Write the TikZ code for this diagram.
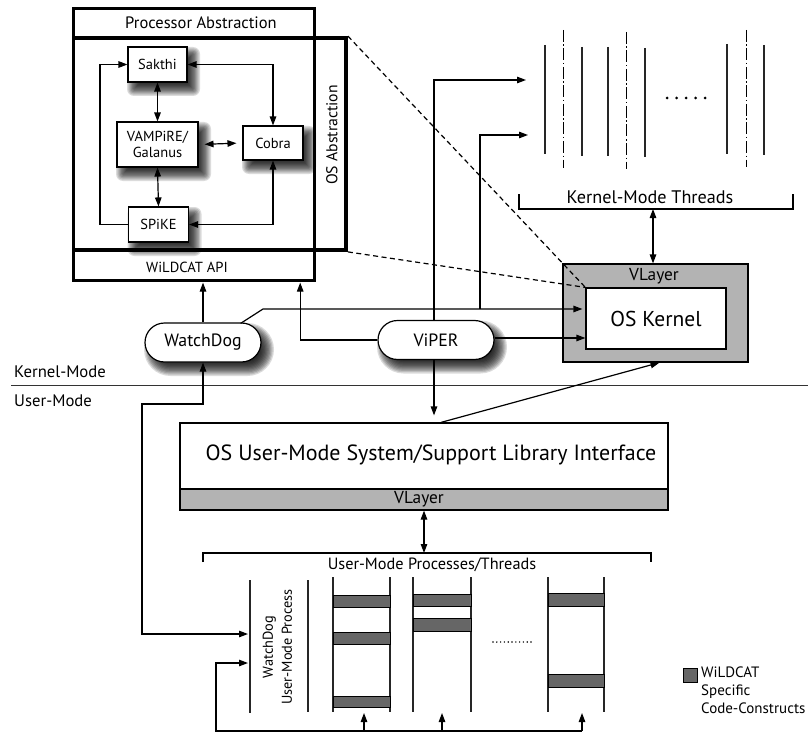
\documentclass[tikz,border=0pt]{standalone}
\usepackage{fontspec}
\setmainfont{PT Sans}
\usetikzlibrary{arrows.meta,calc}

\definecolor{layergray}{HTML}{B3B3B3}
\definecolor{codegray}{HTML}{666666}

% soft drop shadow, drawn before the shape it belongs to, as nested
% grey shapes that darken towards the middle:
% #1 centre of the shape, #2 width, #3 height, #4 corner radius (all pt)
\newcommand\castshadow[4]{%
  \foreach \k in {0,...,11}{
    \pgfmathsetmacro\spread{7*(1-2*\k/11)}
    \pgfmathsetmacro\rr{max(#4+\spread,0.01)}
    \pgfmathsetmacro\ww{#2+2*\spread}
    \pgfmathsetmacro\hh{#3+2*\spread}
    \pgfmathsetmacro\shade{100*(1-0.86^(\k+1))}
    \node[fill=black!\shade, draw=none, inner sep=0pt, rounded corners=\rr pt,
      minimum width=\ww pt, minimum height=\hh pt] at ($(#1)+(6,7)$) {};
  }}

\begin{document}
\begin{tikzpicture}[x=1pt,y=-1pt,
  tip/.tip={Triangle[length=9pt,width=6.5pt]},
  arr/.style={-tip, line width=1.2pt},
  darr/.style={tip-tip, line width=1.2pt},
  frame/.style={draw, line width=3.8pt, inner sep=0pt},
  modbox/.style={draw, fill=white, line width=1.1pt, inner sep=0pt, align=center,
    font=\fontsize{14.5}{16}\selectfont},
  pill/.style={draw, fill=white, line width=1.2pt, rounded corners=19.5pt, inner sep=0pt,
    minimum width=116pt, minimum height=39pt, font=\fontsize{17.8}{20}\selectfont},
  layer/.style={draw, fill=layergray, line width=1.2pt, inner sep=0pt},
  codebar/.style={draw, fill=codegray, line width=0.9pt},
  thread/.style={line width=1.1pt, black!85},
  dashdot/.style={line width=0.8pt, dash pattern=on 12pt off 2.5pt on 1.5pt off 2.5pt},
  lbl/.style={inner sep=0pt},
]
\useasboundingbox (0,0) rectangle (808,733);

% ---------- shadows under the modules and the two agents ----------
\castshadow{157.5,64.5}{59}{35}{0}
\castshadow{157.5,144.5}{81}{45}{0}
\castshadow{273,143}{60}{34}{0}
\castshadow{158.5,224.5}{60}{35}{0}
\castshadow{203,342.5}{116}{39}{19.5}
\castshadow{436,340}{116}{39}{19.5}

% ---------- WiLDCAT framework ----------
\node[frame, minimum width=241pt, minimum height=272pt] (proc) at (194,144.5) {};
\node[frame, minimum width=272.5pt, minimum height=212pt] (osabs) at (209.75,144) {};
\node[lbl, font=\fontsize{16.5}{18}\selectfont] (proctitle) at (201,22.5) {Processor Abstraction};
\node[lbl, rotate=90, font=\fontsize{15.7}{18}\selectfont] (ostitle) at (332,135) {OS Abstraction};
\node[lbl, minimum width=241pt, minimum height=30.5pt] (api) at (194,265.25) {};
\node[lbl, font=\fontsize{14.6}{16}\selectfont] (apitext) at (187,267) {WiLDCAT API};

\node[modbox, minimum width=59pt, minimum height=35pt] (sakthi) at (157.5,64.5) {Sakthi};
\node[modbox, minimum width=81pt, minimum height=45pt] (vampire) at (157.5,144.5) {VAMPiRE/\\Galanus};
\node[modbox, minimum width=60pt, minimum height=34pt] (cobra) at (273,143) {Cobra};
\node[modbox, minimum width=60pt, minimum height=35pt] (spike) at (158.5,224.5) {SPiKE};

\draw[arr] (spike.west) -- ++(-28,0) |- (sakthi.west);
\draw[darr] (cobra.north) |- (sakthi.east);
\draw[darr] (cobra.south) |- (spike.east);
\draw[darr] (sakthi.south) -- (vampire.north);
\draw[darr] (vampire.south) -- (spike.north);
\draw[darr, shorten <=6pt, shorten >=6pt] (vampire.east) -- (cobra.west);

% ---------- kernel side ----------
\node[layer, minimum width=185pt, minimum height=98pt] (vlk) at (655.5,313) {};
\node[lbl, font=\fontsize{17.3}{19}\selectfont] (vlktitle) at (654,276.5) {VLayer};
\node[draw, fill=white, line width=1.2pt, inner sep=0pt, minimum width=140pt, minimum height=61pt,
  font=\fontsize{21.5}{24}\selectfont] (kernel) at (656,318.5) {OS Kernel};

\draw[line width=1.2pt, dash pattern=on 5pt off 3.5pt] (osabs.north east) -- (kernel.north west);
\draw[line width=1.2pt, dash pattern=on 5pt off 3.5pt] (osabs.south east) -- (kernel.north west);

% kernel-mode threads
\foreach \x/\a/\b in {545/45/154, 582/47/156, 608/47/156, 645/48/157, 727/44/154, 764/45/155}
  \draw[thread] (\x,\a) -- (\x,\b);
\foreach \x/\a/\b in {563/30/168, 626/32/169, 746/30/167}
  \draw[dashdot] (\x,\a) -- (\x,\b);
\foreach \x in {667,676.5,686,695.5,705}
  \fill (\x,98) circle (1.5pt);
\draw[line width=1.2pt] (519,194) -- (519,209) -- (793,209) -- (793,194);
\node[lbl, font=\fontsize{18.2}{20}\selectfont] (kthreads) at (650,197) {Kernel-Mode Threads};
\coordinate (kbr) at (653,209);
\draw[darr] (kbr) -- (kbr |- vlk.north);
\coordinate (kt1) at (526,80);
\coordinate (kt2) at (528,135);

% ---------- WatchDog and ViPER ----------
\node[pill] (wd) at (203,342.5) {WatchDog};
\node[pill] (viper) at (436,340) {ViPER};

\draw[arr, shorten >=1.9pt] (wd.north) -- (wd.north |- api.south);
\coordinate (wdk) at (263,309);
\draw[arr, shorten >=3pt] ($(wd.north east)+(-21,1)$) -- (wdk) -- (wdk -| kernel.west);
\coordinate (br) at (480,309);
\draw[arr] (br) |- (kt2);
\draw[arr] ($(viper.north)+(-2,0)$) |- (kt1);
\coordinate (apir) at ($(api.south east)+(-14.5,0)$);
\draw[arr, shorten >=1.9pt] (viper.west) -| (apir);
\draw[arr] ($(viper.east)+(0,-2)$) -- ($(viper.east -| kernel.west)+(0,-2)$);

% mode divider
\draw[line width=1pt, black!80] (11,385) -- (808,385);
\node[lbl, anchor=west, font=\fontsize{16.7}{19}\selectfont] (kmode) at (14,372) {Kernel-Mode};
\node[lbl, anchor=west, font=\fontsize{16.7}{19}\selectfont] (umode) at (14,401) {User-Mode};

% ---------- user side ----------
\node[draw, fill=white, line width=1.2pt, inner sep=0pt, minimum width=488pt, minimum height=87pt] (osum) at (424,466.5) {};
\node[lbl, font=\fontsize{22}{25}\selectfont] (osumtext) at (431,455) {OS User-Mode System/Support Library Interface};
\node[layer, minimum width=488pt, minimum height=21pt] (ulayer) at (424,499.5) {};
\node[lbl, font=\fontsize{17.3}{19}\selectfont] (ulayertext) at (419,499.5) {VLayer};

\draw[arr, shorten >=7pt] ($(viper.south)+(-2,0)$) -- ($(viper.south |- osum.north)+(-2,0)$);
\draw[arr] ($(osum.north)+(17,0)$) -- ($(vlk.south)+(4,0)$);

% user-mode processes/threads
\draw[line width=1.1pt] (203,562) -- (203,553) -- (651,553) -- (651,562);
\coordinate (ubr) at (424,553);
\draw[darr] (ulayer.south) -- (ulayer.south |- ubr);
\node[lbl, font=\fontsize{16.3}{18}\selectfont] (uthreads) at (432,564.5) {User-Mode Processes/Threads};

\draw[thread] (250,580) -- (250,713);
\draw[thread] (308,580) -- (308,712);
\node[lbl, rotate=90, align=center, font=\fontsize{14.3}{19}\selectfont] (wdproc) at (277.5,647) {WatchDog\\User-Mode Process};

\foreach \x in {333,390,413,471,548,604}
  \draw[thread] (\x,577) -- (\x,712);
\foreach \l/\r/\t/\b in {333/390/595/607, 333/390/632/644, 333/390/696/707,
                         413/471/594/606, 413/471/618/631,
                         548/604/593/606, 548/604/674/687}
  \draw[codebar] (\l,\t) rectangle (\r,\b);
\foreach \i in {0,...,10}
  \fill (493+\i*3.8,642) circle (0.8pt);

% WatchDog links into user mode
\coordinate (wdloop) at (142,404);
\coordinate (wdin1) at (248,634);
\draw[darr] (wd.south) |- (wdloop) |- (wdin1);
\coordinate (botl) at (216,731);
\coordinate (wdin2) at (248,663);
\coordinate (t1b) at (364,713);
\coordinate (t2b) at (442,713);
\coordinate (t3b) at (582,713);
\draw[arr] (botl -| t3b) -- (botl) |- (wdin2);
\foreach \t in {t1b,t2b,t3b}
  \draw[arr] (botl -| \t) -- (\t);

% legend
\node[codebar, minimum size=14pt, inner sep=0pt] (legsq) at (690,675.5) {};
\node[lbl, anchor=north west, align=left, font=\fontsize{15}{18}\selectfont] (legtext) at (701,667)
  {WiLDCAT\\Specific\\Code-Constructs};
\end{tikzpicture}
\end{document}
